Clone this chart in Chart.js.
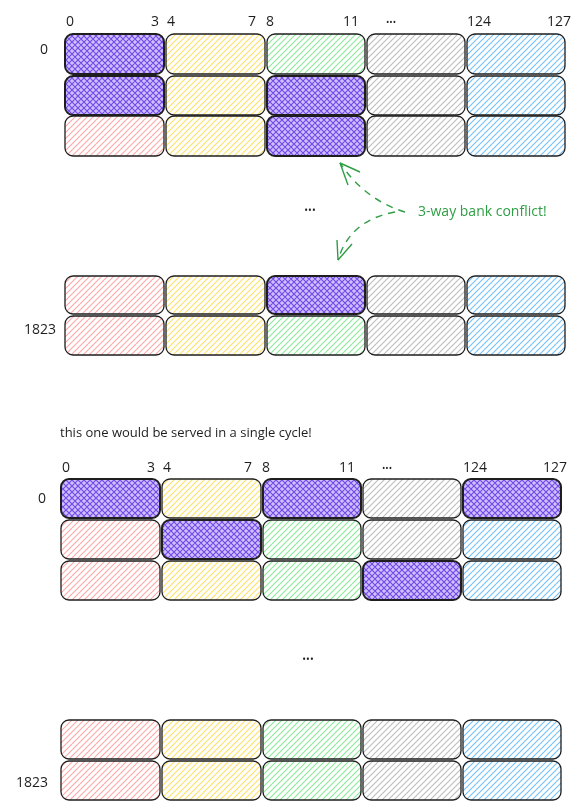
<!DOCTYPE html>
<html><head><meta charset="utf-8">
<script src="https://cdn.jsdelivr.net/npm/chart.js@4"></script>
<style>html,body{margin:0;background:#fff}#c{width:584px;height:810px}</style>
</head><body><div id="c"><canvas id="cv" width="584" height="810"></canvas></div>
<script>
// bank colours, left to right (hatch line colour)
const bankFill = ["#ffa8a8", "#ffe066", "#8ce99a", "#bdbdbd", "#74c0fc"];
// grid 1 (conflict) and grid 2 (single cycle): column edges, row edges, highlighted cells [row, col]
const g1Cols = [64, 165, 266, 366, 466, 566];
const g1Rows = [[34, 74], [76, 115], [116, 156], [276, 314], [316, 355]];
const g1Hits = [[0, 0], [1, 0], [1, 2], [2, 2], [3, 2]];
const g2Cols = [60, 161, 262, 362, 462, 562];
const g2Rows = [[479, 518], [520, 559], [561, 600], [720, 759], [761, 800]];
const g2Hits = [[0, 0], [0, 2], [0, 4], [1, 1], [2, 3]];
const colLabels = ["0", "3", "4", "7", "8", "11", "•••", "124", "127"];
const g1LabelX = [70, 155, 171, 252, 270, 351, 391, 479, 559];
const g2LabelX = [66, 151, 167, 248, 266, 347, 387, 475, 555];

function pattern(ctx, color, cross) {
  const p = document.createElement("canvas"); p.width = p.height = 6;
  const c = p.getContext("2d");
  c.strokeStyle = color; c.lineWidth = 1.1;
  c.beginPath(); c.moveTo(0, 6); c.lineTo(6, 0); c.moveTo(-3, 3); c.lineTo(3, -3); c.moveTo(3, 9); c.lineTo(9, 3);
  if (cross) { c.moveTo(0, 0); c.lineTo(6, 6); c.moveTo(-3, 3); c.lineTo(3, 9); c.moveTo(3, -3); c.lineTo(9, 3); }
  c.stroke();
  return ctx.createPattern(p, "repeat");
}

const drawPlugin = {
  id: "diagram",
  afterDatasetsDraw(chart) {
    const ctx = chart.ctx, xs = chart.scales.x, ys = chart.scales.y;
    const X = v => xs.getPixelForValue(v), Y = v => ys.getPixelForValue(v);
    const hatch = bankFill.map(c => pattern(ctx, c, false));
    const purple = pattern(ctx, "#7048e8", true);
    function grid(cols, rows, hits) {
      rows.forEach((r, ri) => {
        for (let ci = 0; ci < 5; ci++) {
          const hit = hits.some(h => h[0] === ri && h[1] === ci);
          const x0 = X(cols[ci]) + 1, x1 = X(cols[ci + 1]) - 1, y0 = Y(r[0]), y1 = Y(r[1]);
          ctx.beginPath(); ctx.roundRect(x0, y0, x1 - x0, y1 - y0, 8);
          if (hit) { ctx.fillStyle = "#d0bfff"; ctx.fill(); ctx.fillStyle = purple; ctx.fill(); }
          else { ctx.fillStyle = hatch[ci]; ctx.fill(); }
          ctx.strokeStyle = "#1e1e1e"; ctx.lineWidth = hit ? 2 : 1.3; ctx.stroke();
        }
      });
    }
    grid(g1Cols, g1Rows, g1Hits);
    grid(g2Cols, g2Rows, g2Hits);
    ctx.fillStyle = "#1e1e1e"; ctx.font = "14px 'Open Sans'"; ctx.textAlign = "center"; ctx.textBaseline = "middle";
    colLabels.forEach((t, i) => {
      ctx.font = i === 6 ? "9px 'Open Sans'" : "14px 'Open Sans'";
      ctx.fillText(t, X(g1LabelX[i]), Y(22)); ctx.fillText(t, X(g2LabelX[i]), Y(468));
    });
    ctx.font = "14px 'Open Sans'"; ctx.textAlign = "right";
    ctx.fillText("0", X(48), Y(50)); ctx.fillText("1823", X(56), Y(330));
    ctx.fillText("0", X(46), Y(499)); ctx.fillText("1823", X(48), Y(783));
    ctx.textAlign = "center"; ctx.font = "10px 'Open Sans'";
    ctx.fillText("•••", X(310), Y(211)); ctx.fillText("•••", X(308), Y(660));
    ctx.font = "13px 'Open Sans'"; ctx.textAlign = "left";
    ctx.fillText("this one would be served in a single cycle!", X(60), Y(433));
    ctx.fillStyle = "#2f9e44"; ctx.font = "14px 'Open Sans'";
    ctx.fillText("3-way bank conflict!", X(418), Y(212));
    // dashed arrows
    ctx.strokeStyle = "#2f9e44"; ctx.lineWidth = 1.4; ctx.setLineDash([7, 6]);
    ctx.beginPath();
    ctx.moveTo(X(405), Y(212)); ctx.quadraticCurveTo(X(365), Y(200), X(340), Y(163));
    ctx.moveTo(X(395), Y(212)); ctx.quadraticCurveTo(X(350), Y(220), X(338), Y(260));
    ctx.stroke(); ctx.setLineDash([]);
    ctx.beginPath();
    ctx.moveTo(X(340), Y(163)); ctx.lineTo(X(360), Y(172)); ctx.moveTo(X(340), Y(163)); ctx.lineTo(X(348), Y(185));
    ctx.moveTo(X(338), Y(260)); ctx.lineTo(X(337), Y(240)); ctx.moveTo(X(338), Y(260)); ctx.lineTo(X(352), Y(244));
    ctx.stroke();
  }
};

new Chart(document.getElementById("cv"), {
  type: "scatter",
  data: { datasets: [{ data: [] }] },
  options: {
    responsive: false, animation: false,
    layout: { padding: 0 },
    plugins: { legend: { display: false }, tooltip: { enabled: false } },
    scales: {
      x: { type: "linear", min: 0, max: 584, display: false },
      y: { type: "linear", min: 0, max: 810, reverse: true, display: false }
    }
  },
  plugins: [drawPlugin]
});
</script></body></html>
